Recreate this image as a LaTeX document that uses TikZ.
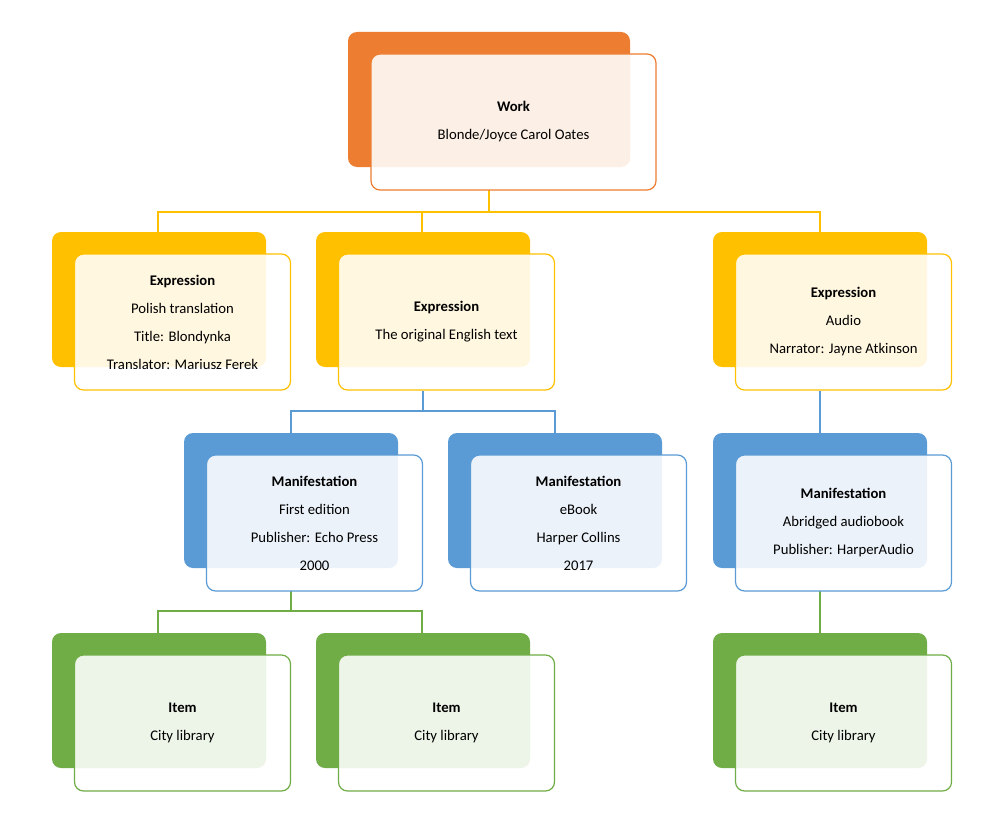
\documentclass[tikz,border=0pt]{standalone}
\usepackage{fontspec}
\setmainfont{Carlito}
\usetikzlibrary{calc}
\definecolor{cO}{HTML}{ED7D31}
\definecolor{cY}{HTML}{FFC000}
\definecolor{cB}{HTML}{5B9BD5}
\definecolor{cG}{HTML}{70AD47}
\tikzset{
  back/.style={draw=none,fill=#1,rounded corners=9pt,minimum width=214pt,minimum height=135pt,inner sep=0pt},
  front/.style={draw=#1,line width=1.2pt,fill=white,fill opacity=0.88,text opacity=1,rounded corners=9pt,minimum width=216pt,minimum height=136pt,inner sep=0pt,align=center,font=\fontsize{14.7pt}{28pt}\selectfont},
  conn/.style={draw=#1,line width=1.2pt}
}
\newcommand{\unitbox}[6]{%
  \node[back=#2] (#1b) at (#3,#4) {};
  \node[front=#2] (#1) at ($(#3,#4)+(23.5,22.5)$) {#5};
}
\begin{document}
\begin{tikzpicture}[x=1pt,y=-1pt]
\useasboundingbox (0,0) rectangle (1000,824);
% connectors
\draw[conn=cY] (489,190) coordinate (w0) -- (489,212) coordinate (w1);
\draw[conn=cY] (158,232) coordinate (e1t) |- (w1) -| (820,232) coordinate (e3t);
\draw[conn=cY] (422,212) -- (422,232) coordinate (e2t);
\draw[conn=cB] (423,391) coordinate (m0) -- (423,411) coordinate (m1);
\draw[conn=cB] (291,433) coordinate (m1t) |- (m1) -| (555,433) coordinate (m2t);
\draw[conn=cB] (820,391) coordinate (e3s) -- (820,433) coordinate (m3t);
\draw[conn=cG] (291,591) coordinate (i0) -- (291,611) coordinate (i1);
\draw[conn=cG] (158,633) coordinate (i1t) |- (i1) -| (422,633) coordinate (i2t);
\draw[conn=cG] (820,591) coordinate (m3s) -- (820,633) coordinate (i3t);
% boxes
\node[back=cO,minimum width=282pt] (wb) at (489,99.5) {};
\node[front=cO,minimum width=285pt] (w) at (513.5,122) {\textbf{Work}\\Blonde/Joyce Carol Oates};
\unitbox{ea}{cY}{159}{299.5}{\textbf{Expression}\\Polish translation\\Title: Blondynka\\Translator: Mariusz Ferek}{}
\unitbox{eb}{cY}{423}{299.5}{\textbf{Expression}\\The original English text}{}
\unitbox{ec}{cY}{820}{299.5}{\textbf{Expression}\\Audio\\Narrator: Jayne Atkinson}{}
\unitbox{ma}{cB}{291}{500.5}{\textbf{Manifestation}\\First edition\\Publisher: Echo Press\\2000}{}
\unitbox{mb}{cB}{555}{500.5}{\textbf{Manifestation}\\eBook\\Harper Collins\\2017}{}
\unitbox{mc}{cB}{820}{500.5}{\textbf{Manifestation}\\Abridged audiobook\\Publisher: HarperAudio}{}
\unitbox{ia}{cG}{159}{700.5}{\textbf{Item}\\City library}{}
\unitbox{ib}{cG}{423}{700.5}{\textbf{Item}\\City library}{}
\unitbox{ic}{cG}{820}{700.5}{\textbf{Item}\\City library}{}
\end{tikzpicture}
\end{document}
